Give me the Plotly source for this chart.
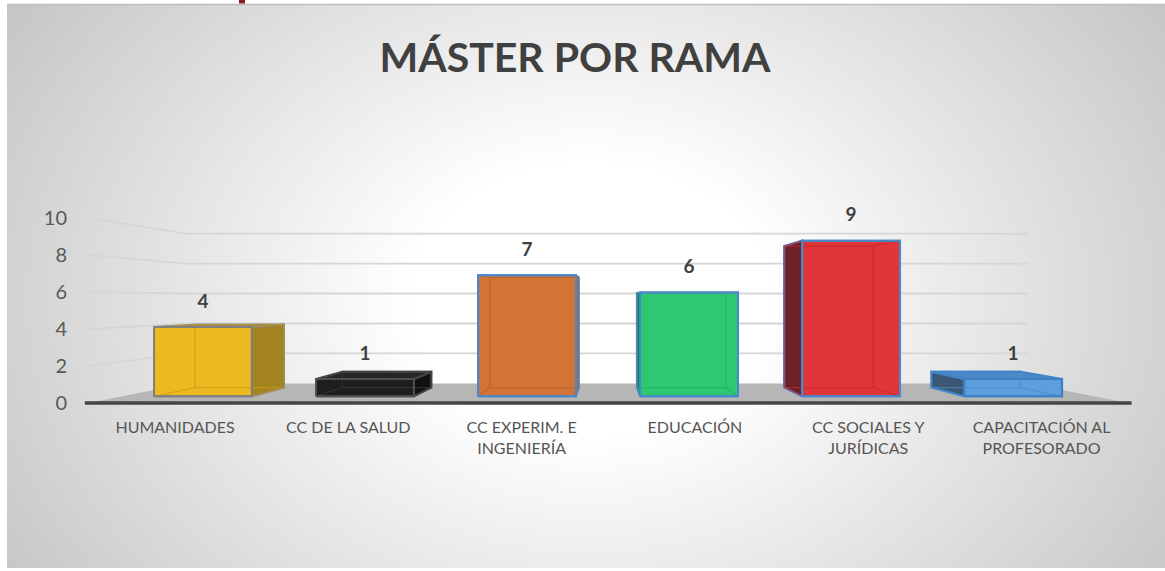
import base64
import struct
import zlib

import numpy as np
import plotly.graph_objects as go

# ---------------- data ----------------
categories = ["HUMANIDADES", "CC DE LA SALUD", "CC EXPERIM. E INGENIERÍA",
              "EDUCACIÓN", "CC SOCIALES Y JURÍDICAS", "CAPACITACIÓN AL PROFESORADO"]
tick_labels = ["HUMANIDADES", "CC DE LA SALUD", "CC EXPERIM. E<br>INGENIERÍA",
               "EDUCACIÓN", "CC SOCIALES Y<br>JURÍDICAS", "CAPACITACIÓN AL<br>PROFESORADO"]
values = [4, 1, 7, 6, 9, 1]
y_ticks = [0, 2, 4, 6, 8, 10]
title_text = "MÁSTER POR RAMA"

# ---------------- styles ----------------
front_colors = ["#EDB921", "#1E1E1E", "#D37334", "#2EC872", "#E1353A", "#5C9FDC"]
side_colors = ["#A3841E", "#111111", "#B8602A", "#1A6E55", "#6B2125", "#3A5874"]
top_colors = ["#E0AC1E", "#262626", "#D37334", "#2EC872", "#E1353A", "#4C8AC6"]
edge_colors = ["#808080", "#4E4E4E", "#4A88CC", "#4A88CC", "#4A88CC", "#3C80C8"]
inner_colors = ["#C99A16", "#3C3C3C", "#B5622C", "#27A862", "#C22A30", "#4A8AC8"]

W, H = 1165, 571
ML, MR, MT, MB = 80, 25, 195, 159
PW, PH = W - ML - MR, H - MT - MB
X0PIX, XSTEP = 175.0, 173.3      # category 0 centre and spacing (front plane)
Y0PIX, YSTEP = 403.0, 18.5       # value 0 and px per unit (front plane)
X_RANGE = [(ML - X0PIX) / XSTEP, (W - MR - X0PIX) / XSTEP]
Y_RANGE = [(Y0PIX - (H - MB)) / YSTEP, (Y0PIX - MT) / YSTEP]

XV = (605 - X0PIX) / XSTEP       # vanishing point (data units)
YV = (Y0PIX - 300) / YSTEP
K_WALL, K_BF, K_BB = 0.81, 0.935, 0.85
HW = 0.302


def proj(x, v, k):
    return XV + k * (x - XV), YV + k * (v - YV)


def px_x(p):
    return (p - ML) / PW


def px_y(p):
    return (H - MB - p) / PH


# ---------------- background gradient image ----------------
def png_gray(arr):
    h, w = arr.shape
    raw = b"".join(b"\x00" + arr[r].tobytes() for r in range(h))

    def chunk(t, d):
        return struct.pack(">I", len(d)) + t + d + struct.pack(">I", zlib.crc32(t + d) & 0xFFFFFFFF)

    ihdr = struct.pack(">IIBBBBB", w, h, 8, 0, 0, 0, 0)
    return (b"\x89PNG\r\n\x1a\n" + chunk(b"IHDR", ihdr)
            + chunk(b"IDAT", zlib.compress(raw, 9)) + chunk(b"IEND", b""))


BX0, BY0, BX1, BY1 = 7, 4, 1165, 568
gw, gh = (BX1 - BX0) // 2, (BY1 - BY0) // 2
jj, ii = np.meshgrid(np.arange(gw), np.arange(gh))
pxs = BX0 + (jj + 0.5) * 2
pys = BY0 + (ii + 0.5) * 2
r = np.sqrt(((pxs - 590) / 650.0) ** 2 + ((pys - 300) / 500.0) ** 2)
g = 255 - 72 * np.clip(r - 0.28, 0, None)
g = np.clip(g, 0, 255).astype(np.uint8)
bg_uri = "data:image/png;base64," + base64.b64encode(png_gray(g)).decode()

fig = go.Figure()

# ---------------- walls / gridlines ----------------
gx, gy = [], []
for v in y_ticks[1:]:
    a = proj(-0.5, v, 1.0)
    b = proj(-0.5, v, K_WALL)
    c = proj(5.5, v, K_WALL)
    gx += [a[0], b[0], c[0], None]
    gy += [a[1], b[1], c[1], None]
fig.add_trace(go.Scatter(x=gx, y=gy, mode="lines", line=dict(color="#D6D6D6", width=1.8),
                         hoverinfo="skip", showlegend=False))

floor = [proj(-0.5, 0, 1.0), proj(-0.5, 0, K_WALL), proj(5.5, 0, K_WALL), proj(5.5, 0, 1.0)]
fig.add_trace(go.Scatter(x=[p[0] for p in floor], y=[p[1] for p in floor], fill="toself",
                         fillcolor="#B6B6B6", mode="lines", line=dict(width=0, color="#B6B6B6"),
                         hoverinfo="skip", showlegend=False))
fig.add_trace(go.Scatter(x=[-0.52, 5.52], y=[0, 0], mode="lines",
                         line=dict(color="#454545", width=3.5), hoverinfo="skip", showlegend=False))


def poly(points, fill, edge, width=2.0, opacity=1.0):
    xs = [p[0] for p in points] + [points[0][0]]
    ys = [p[1] for p in points] + [points[0][1]]
    fig.add_trace(go.Scatter(x=xs, y=ys, fill="toself", fillcolor=fill, mode="lines",
                             line=dict(color=edge, width=width), opacity=opacity,
                             hoverinfo="skip", showlegend=False))


# ---------------- bars ----------------
for i, v in enumerate(values):
    xl, xr = i - HW, i + HW
    F = [proj(xl, 0, K_BF), proj(xr, 0, K_BF), proj(xr, v, K_BF), proj(xl, v, K_BF)]
    B = [proj(xl, 0, K_BB), proj(xr, 0, K_BB), proj(xr, v, K_BB), proj(xl, v, K_BB)]
    poly(B, front_colors[i], edge_colors[i])
    if i < XV:
        poly([F[1], B[1], B[2], F[2]], side_colors[i], edge_colors[i])
    else:
        poly([F[0], B[0], B[3], F[3]], side_colors[i], edge_colors[i])
    if F[3][1] < YV:
        poly([F[3], F[2], B[2], B[3]], top_colors[i], edge_colors[i])
    poly(F, front_colors[i], edge_colors[i])
    # hidden (see-through) edges
    hx, hy = [], []
    for a, b in [(B[0], B[1]), (B[1], B[2]), (B[2], B[3]), (B[3], B[0]),
                 (F[0], B[0]), (F[1], B[1]), (F[2], B[2]), (F[3], B[3])]:
        hx += [a[0], b[0], None]
        hy += [a[1], b[1], None]
    fig.add_trace(go.Scatter(x=hx, y=hy, mode="lines", line=dict(color=inner_colors[i], width=1.2),
                             opacity=0.7, hoverinfo="skip", showlegend=False))
    # outline of front face again on top
    fx = [p[0] for p in F] + [F[0][0]]
    fy = [p[1] for p in F] + [F[0][1]]
    fig.add_trace(go.Scatter(x=fx, y=fy, mode="lines", line=dict(color=edge_colors[i], width=2.0),
                             hoverinfo="skip", showlegend=False))

# ---------------- data labels ----------------
lx = [proj(i, v, K_BF)[0] for i, v in enumerate(values)]
ly = [proj(i, v, K_BF)[1] + 24 / YSTEP for i, v in enumerate(values)]
fig.add_trace(go.Scatter(x=lx, y=ly, mode="text", text=[str(v) for v in values],
                         textposition="middle center",
                         textfont=dict(family="Lato", size=19, color="#404040", weight="bold"),
                         hoverinfo="skip", showlegend=False))

fig.update_layout(
    width=W, height=H,
    margin=dict(l=ML, r=MR, t=MT, b=MB, pad=0),
    paper_bgcolor="white",
    plot_bgcolor="rgba(0,0,0,0)",
    showlegend=False,
    title=dict(text=title_text, x=px_x(575), xref="paper", xanchor="center",
               y=1 - 58 / H, yref="container", yanchor="middle",
               font=dict(family="Lato", size=41, color="#404040", weight="bold")),
    xaxis=dict(range=X_RANGE, tickvals=list(range(len(categories))), ticktext=tick_labels,
               showgrid=False, zeroline=False, showline=False, ticks="",
               ticklabelstandoff=4,
               tickfont=dict(family="Lato", size=16, color="#555555"), fixedrange=True),
    yaxis=dict(range=Y_RANGE, tickvals=y_ticks, showgrid=False, zeroline=False,
               showline=False, ticks="", ticklabelstandoff=12,
               tickfont=dict(family="Lato", size=20, color="#595959"), fixedrange=True),
    images=[dict(source=bg_uri, xref="paper", yref="paper", x=px_x(BX0), y=px_y(BY0),
                 sizex=(BX1 - BX0) / PW, sizey=(BY1 - BY0) / PH, xanchor="left", yanchor="top",
                 sizing="stretch", layer="below")],
    shapes=[
        dict(type="line", xref="paper", yref="paper", x0=px_x(BX0), x1=px_x(W),
             y0=px_y(4.5), y1=px_y(4.5), line=dict(color="#BDBDBD", width=1.5)),
        dict(type="rect", xref="paper", yref="paper", x0=px_x(239), x1=px_x(245),
             y0=px_y(0), y1=px_y(3.5), fillcolor="#8B1A1A", line=dict(width=0)),
    ],
)

fig.write_html("out.html", config={"displayModeBar": False},
               post_script="document.body.style.margin='0';document.body.style.overflow='hidden';")
